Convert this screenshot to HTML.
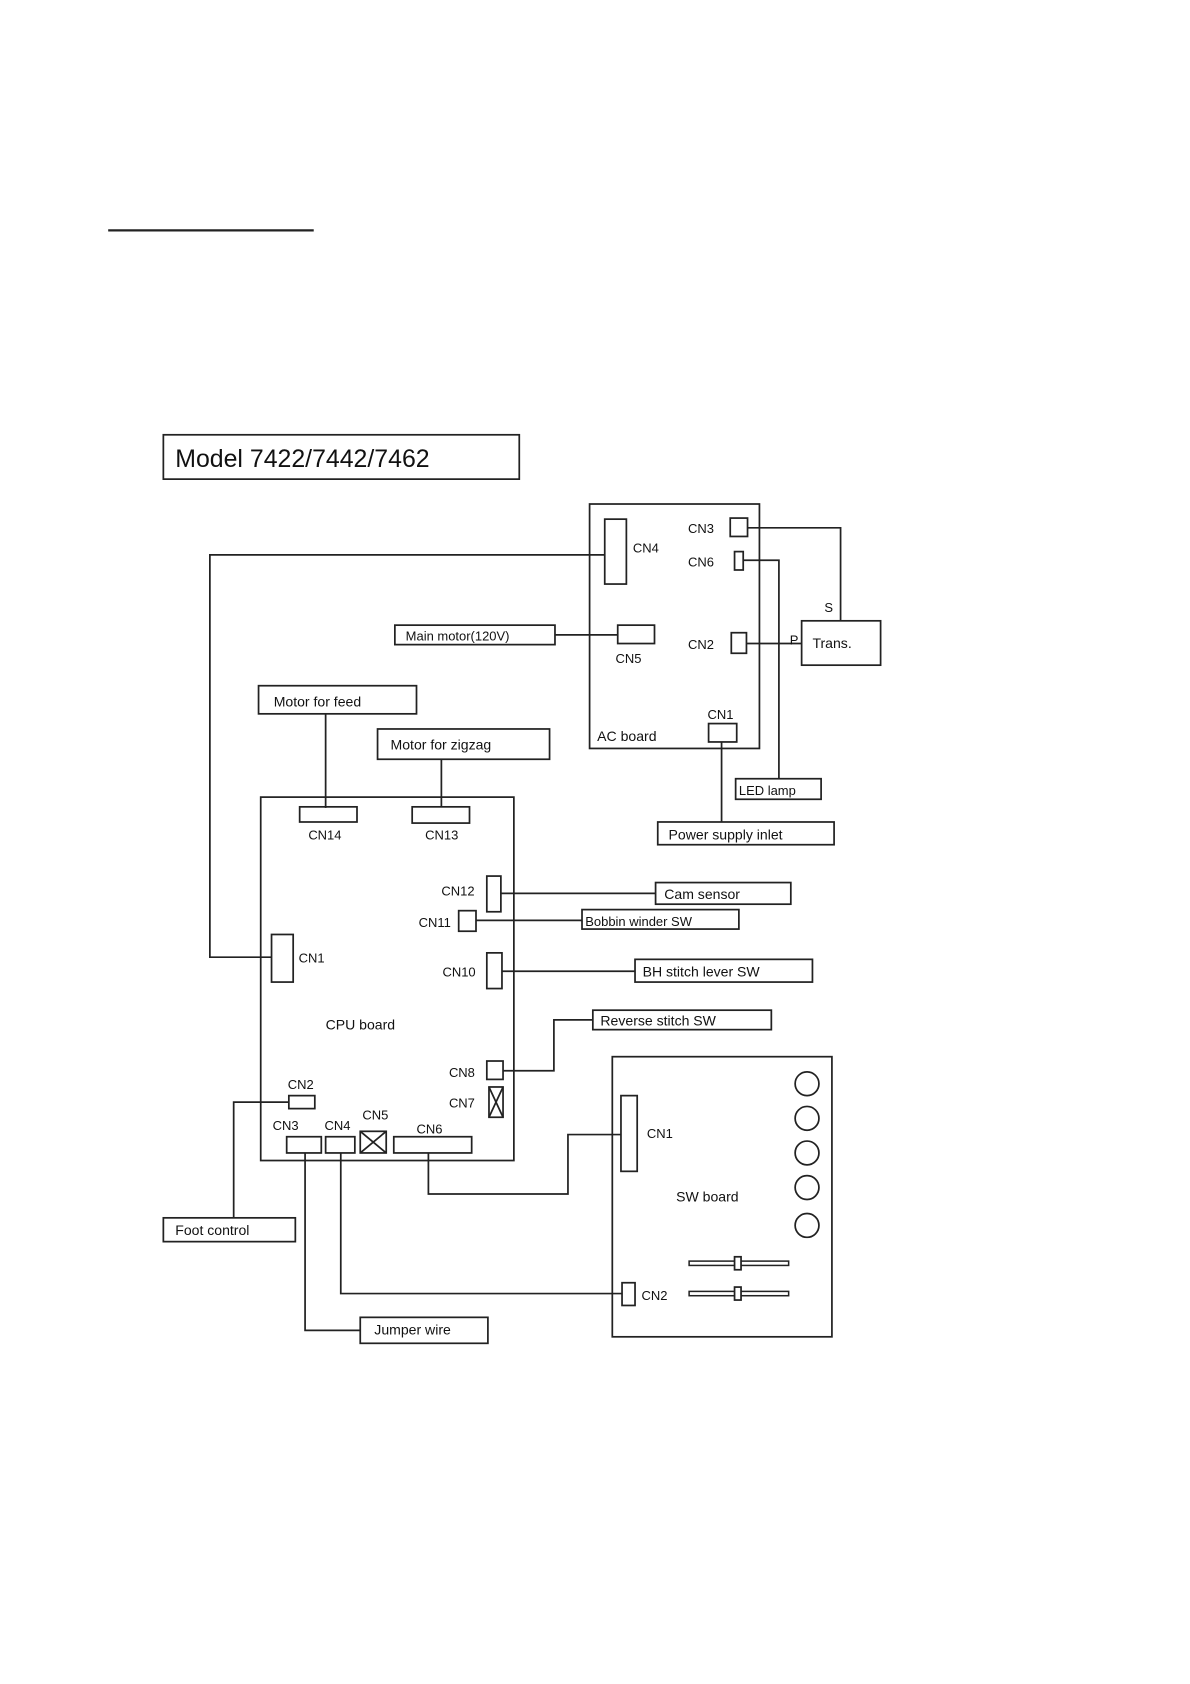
<!DOCTYPE html>
<html><head><meta charset="utf-8"><style>
html,body{margin:0;padding:0;background:#fff;width:1190px;height:1684px;overflow:hidden}
svg{display:block}
text{font-family:"Liberation Sans",sans-serif;fill:#111}
</style></head><body>
<svg width="1190" height="1684" viewBox="0 0 1100 1557" preserveAspectRatio="none">
<g stroke="#222" stroke-width="1.6" fill="none">
<line x1="100" y1="213" x2="290" y2="213" stroke-width="2"/>
<rect x="151" y="402" width="329" height="41"/>
<!-- AC board -->
<rect x="545" y="466" width="157" height="226"/>
<rect x="559" y="480" width="20" height="60"/>
<rect x="675" y="479" width="16" height="17"/>
<rect x="679" y="510" width="8" height="17"/>
<rect x="571" y="578" width="34" height="17"/>
<rect x="676" y="585" width="14" height="19"/>
<rect x="655" y="669" width="26" height="17"/>
<rect x="741" y="574" width="73" height="41"/>
<polyline points="691,488 777,488 777,574"/>
<polyline points="687,518 720,518 720,720"/>
<line x1="690" y1="595" x2="741" y2="595"/>
<rect x="680" y="720" width="79" height="19"/>
<line x1="667" y1="686" x2="667" y2="760"/>
<rect x="608" y="760" width="163" height="21"/>
<polyline points="559,513 194,513 194,885 251,885"/>
<rect x="365" y="578" width="148" height="18"/>
<line x1="513" y1="587" x2="571" y2="587"/>
<rect x="239" y="634" width="146" height="26"/>
<line x1="301" y1="660" x2="301" y2="747"/>
<rect x="349" y="674" width="159" height="28"/>
<line x1="408" y1="702" x2="408" y2="746"/>
<!-- CPU -->
<rect x="241" y="737" width="234" height="336"/>
<rect x="277" y="746" width="53" height="14"/>
<rect x="381" y="746" width="53" height="15"/>
<rect x="450" y="810" width="13" height="33"/>
<line x1="463" y1="826" x2="606" y2="826"/>
<rect x="606" y="816" width="125" height="20"/>
<rect x="424" y="842" width="16" height="19"/>
<line x1="440" y1="851" x2="538" y2="851"/>
<rect x="538" y="841" width="145" height="18"/>
<rect x="450" y="881" width="14" height="33"/>
<line x1="464" y1="898" x2="587" y2="898"/>
<rect x="587" y="887" width="164" height="21"/>
<rect x="251" y="864" width="20" height="44"/>
<rect x="548" y="934" width="165" height="18"/>
<polyline points="465,990 512,990 512,943 548,943"/>
<rect x="450" y="981" width="15" height="17"/>
<rect x="452" y="1005" width="13" height="28"/>
<line x1="452" y1="1005" x2="465" y2="1033"/><line x1="465" y1="1005" x2="452" y2="1033"/>
<rect x="267" y="1013" width="24" height="12"/>
<polyline points="267,1019 216,1019 216,1126"/>
<rect x="151" y="1126" width="122" height="22"/>
<rect x="265" y="1051" width="32" height="15"/>
<rect x="301" y="1051" width="27" height="15"/>
<rect x="333" y="1046" width="24" height="20"/>
<line x1="333" y1="1046" x2="357" y2="1066"/><line x1="357" y1="1046" x2="333" y2="1066"/>
<rect x="364" y="1051" width="72" height="15"/>
<polyline points="396,1066 396,1104 525,1104 525,1049 574,1049"/>
<!-- SW -->
<rect x="566" y="977" width="203" height="259"/>
<rect x="574" y="1013" width="15" height="70"/>
<circle cx="746" cy="1002" r="11"/><circle cx="746" cy="1034" r="11"/><circle cx="746" cy="1066" r="11"/><circle cx="746" cy="1098" r="11"/><circle cx="746" cy="1133" r="11"/>
<rect x="637" y="1166" width="92" height="4" stroke-width="1.4"/>
<rect x="679" y="1162" width="6" height="12" fill="#fff"/>
<rect x="637" y="1194" width="92" height="4" stroke-width="1.4"/>
<rect x="679" y="1190" width="6" height="12" fill="#fff"/>
<rect x="575" y="1186" width="12" height="21"/>
<polyline points="315,1066 315,1196 575,1196"/>
<polyline points="282,1066 282,1230 333,1230"/>
<rect x="333" y="1218" width="118" height="24"/>
</g>
<g font-size="12">
<text x="162" y="432" font-size="23">Model 7422/7442/7462</text>
<text x="636" y="493">CN3</text>
<text x="585" y="511">CN4</text>
<text x="636" y="524">CN6</text>
<text x="762" y="566">S</text>
<text x="730" y="596">P</text>
<text x="636" y="600">CN2</text>
<text x="751" y="599" font-size="13">Trans.</text>
<text x="569" y="613">CN5</text>
<text x="375" y="592">Main motor(120V)</text>
<text x="654" y="665">CN1</text>
<text x="552" y="685" font-size="13">AC board</text>
<text x="683" y="735">LED lamp</text>
<text x="618" y="776" font-size="13">Power supply inlet</text>
<text x="253" y="653" font-size="13">Motor for feed</text>
<text x="361" y="693" font-size="13">Motor for zigzag</text>
<text x="285" y="776">CN14</text>
<text x="393" y="776">CN13</text>
<text x="408" y="828">CN12</text>
<text x="614" y="831" font-size="13">Cam sensor</text>
<text x="387" y="857">CN11</text>
<text x="541" y="856">Bobbin winder SW</text>
<text x="276" y="890">CN1</text>
<text x="409" y="903">CN10</text>
<text x="594" y="903" font-size="13">BH stitch lever SW</text>
<text x="301" y="952" font-size="13">CPU board</text>
<text x="555" y="948" font-size="13">Reverse stitch SW</text>
<text x="415" y="996">CN8</text>
<text x="415" y="1024">CN7</text>
<text x="266" y="1007">CN2</text>
<text x="335" y="1035">CN5</text>
<text x="252" y="1045">CN3</text>
<text x="300" y="1045">CN4</text>
<text x="385" y="1048">CN6</text>
<text x="598" y="1052">CN1</text>
<text x="625" y="1111" font-size="13">SW board</text>
<text x="162" y="1142" font-size="13">Foot control</text>
<text x="593" y="1202">CN2</text>
<text x="346" y="1234" font-size="13">Jumper wire</text>
</g>
</svg>
</body></html>
